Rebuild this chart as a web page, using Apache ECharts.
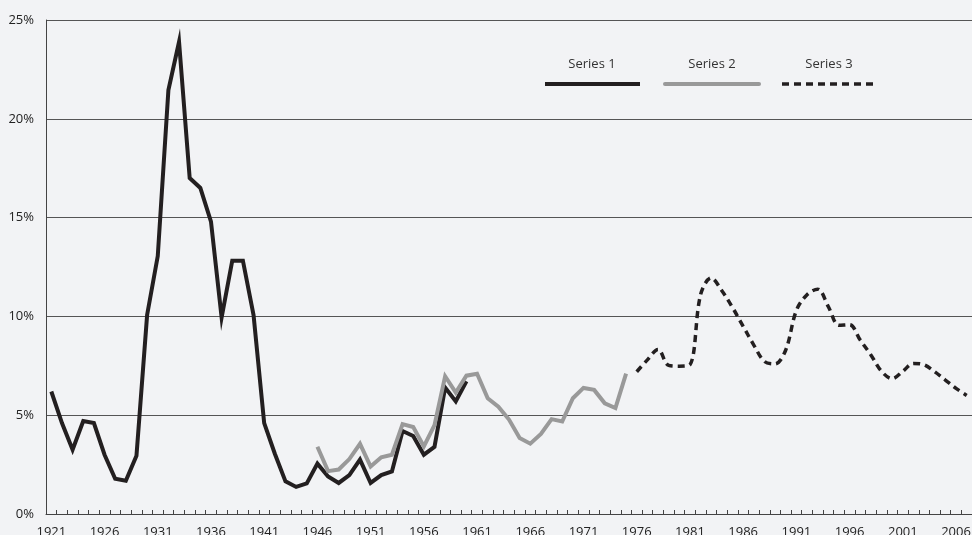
<!DOCTYPE html>
<html>
<head>
<meta charset="utf-8">
<script src="https://cdn.jsdelivr.net/npm/echarts@6/dist/echarts.min.js"></script>
<style>
  html, body { margin: 0; padding: 0; background: #f2f3f5; }
  #chart { width: 972px; height: 535px; }
</style>
</head>
<body>
<div id="chart"></div>
<script>
// years on the x axis
const years = [];
for (let y = 1921; y <= 2007; y++) years.push(String(y));

// Series 1: 1921-1960
const series1Start = 1921;
const series1 = [6.2, 4.6, 3.25, 4.7, 4.6, 3.0, 1.78, 1.68, 2.95, 10.07,
  13.05, 21.45, 23.9, 17.0, 16.5, 14.8, 9.95, 12.82, 12.82, 10.07,
  4.6, 3.05, 1.65, 1.37, 1.55, 2.55, 1.9, 1.57, 1.97, 2.75,
  1.57, 1.97, 2.15, 4.2, 3.95, 3.0, 3.4, 6.4, 5.7, 6.72];

// Series 2: 1946-1975
const series2Start = 1946;
const series2 = [3.4, 2.17, 2.25, 2.78, 3.55, 2.4, 2.87, 3.0, 4.55, 4.4,
  3.42, 4.5, 6.97, 6.15, 7.0, 7.1, 5.86, 5.43, 4.78, 3.85,
  3.56, 4.05, 4.8, 4.68, 5.86, 6.38, 6.28, 5.6, 5.36, 7.1];

// Series 3: 1976-2007
const series3Start = 1976;
const series3 = [7.2, 7.8, 8.33, 7.52, 7.48, 7.55, 11.1, 11.95, 11.3, 10.45,
  9.5, 8.55, 7.72, 7.6, 8.3, 10.3, 11.1, 11.38, 10.5, 9.55,
  9.58, 8.8, 8.05, 7.22, 6.85, 7.22, 7.62, 7.55, 7.2, 6.78,
  6.36, 6.0];

const yTicks = [0, 5, 10, 15, 20, 25];

function place(start, vals) {
  const out = years.map(() => null);
  vals.forEach((v, i) => { out[Number(start) - 1921 + i] = v; });
  return out;
}

const font = '"Open Sans", "Noto Sans", sans-serif';
const chart = echarts.init(document.getElementById('chart'));

const option = {
  backgroundColor: '#f2f3f5',
  animation: false,
  grid: { left: 46, right: 0, top: 20, bottom: 21, containLabel: false, outerBoundsMode: 'none' },
  xAxis: {
    type: 'category',
    data: years,
    boundaryGap: true,
    axisLine: { show: true, lineStyle: { color: '#444', width: 1 } },
    axisTick: { show: true, inside: true, length: 4, interval: 0, lineStyle: { color: '#444' } },
    axisLabel: { interval: 4, color: '#222', fontFamily: font, fontSize: 13, margin: 12 },
    splitLine: { show: false }
  },
  yAxis: {
    type: 'value',
    min: yTicks[0],
    max: yTicks[yTicks.length - 1],
    interval: 5,
    axisLine: { show: true, lineStyle: { color: '#444', width: 1 } },
    axisTick: { show: false },
    axisLabel: { color: '#222', fontFamily: font, fontSize: 13, margin: 12, formatter: '{value}%' },
    splitLine: { show: true, lineStyle: { color: '#555', width: 1 } }
  },
  series: [
    {
      name: 'Series 1', type: 'line', data: place(series1Start, series1),
      symbol: 'none', connectNulls: false,
      lineStyle: { color: '#231f20', width: 4, join: 'miter' }
    },
    {
      name: 'Series 2', type: 'line', data: place(series2Start, series2),
      symbol: 'none',
      lineStyle: { color: '#999999', width: 4, join: 'miter' }
    },
    {
      name: 'Series 3', type: 'line', data: place(series3Start, series3),
      symbol: 'none', smooth: 0.35,
      lineStyle: { color: '#231f20', width: 3.5, type: [7, 5] }
    }
  ],
  graphic: [
    { type: 'text', x: 592, y: 64, style: { text: 'Series 1', font: '13px ' + font, fill: '#333', align: 'center', verticalAlign: 'middle' } },
    { type: 'text', x: 712, y: 64, style: { text: 'Series 2', font: '13px ' + font, fill: '#333', align: 'center', verticalAlign: 'middle' } },
    { type: 'text', x: 829, y: 64, style: { text: 'Series 3', font: '13px ' + font, fill: '#333', align: 'center', verticalAlign: 'middle' } },
    { type: 'line', shape: { x1: 545, y1: 84, x2: 640, y2: 84 }, style: { stroke: '#231f20', lineWidth: 4 } },
    { type: 'line', shape: { x1: 665, y1: 84, x2: 759, y2: 84 }, style: { stroke: '#999999', lineWidth: 4, lineCap: 'round' } },
    { type: 'line', shape: { x1: 782, y1: 84, x2: 876, y2: 84 }, style: { stroke: '#231f20', lineWidth: 3.5, lineDash: [7, 5] } }
  ]
};
chart.setOption(option);
</script>
</body>
</html>
